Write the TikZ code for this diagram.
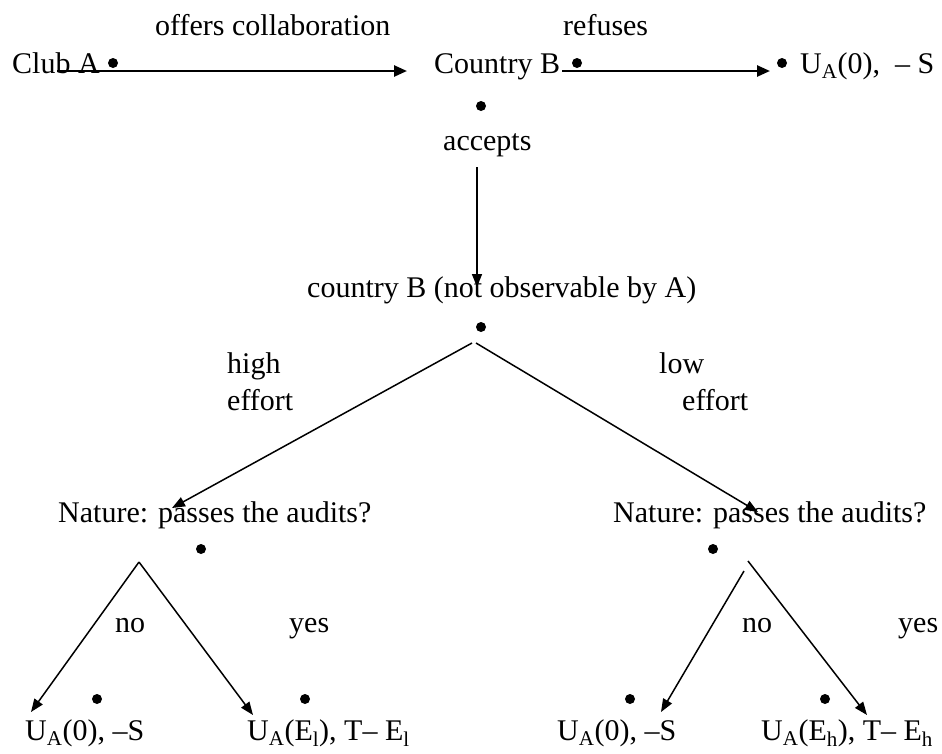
\documentclass[tikz,border=0pt]{standalone}
\usepackage{fontspec}
\setmainfont{Liberation Serif}
\usetikzlibrary{arrows.meta}
\begin{document}
\begin{tikzpicture}[x=1pt,y=-1pt,
  lbl/.style={anchor=base west,inner sep=0pt,font=\fontsize{30}{36}\selectfont},
  dot/.style={circle,fill=black,inner sep=0pt,minimum size=10pt},
  arr/.style={-{Triangle[length=13pt,width=10pt]},line width=1.5pt},
  toparr/.style={-{Triangle[length=13pt,width=11pt]},line width=2.5pt}]
\useasboundingbox (0,0) rectangle (942,753);
% top row
\node[lbl] (offers) at (155,35) {offers collaboration};
\node[lbl] (refuses) at (563,35) {refuses};
\node[lbl] (clubA) at (12,73) {Club A};
\node[dot] (dA) at (113,63) {};
\node[lbl] (countryB) at (434,73) {Country B};
\node[dot] (dB) at (577,63) {};
\node[dot] (dR) at (782,63) {};
\node[lbl] (payR) at (800,73) {U\textsubscript{A}(0),\ \ – S};
\node[dot] (dB2) at (481,106) {};
\node[lbl] (accepts) at (443,150) {accepts};
\node[lbl] (cB) at (307,297) {country B (not observable by A)};
\node[dot] (dC) at (481,327) {};
\node[lbl] (high) at (227,373) {high};
\node[lbl] (heff) at (227,410) {effort};
\node[lbl] (low) at (659,373) {low};
\node[lbl] (leff) at (682,410) {effort};
\node[lbl] (natL) at (58,522) {Nature: passes the audits?};
\node[lbl] (natR) at (613,522) {Nature: passes the audits?};
\node[dot] (dNL) at (201,549) {};
\node[dot] (dNR) at (713,549) {};
\node[lbl] (noL) at (115,632) {no};
\node[lbl] (yesL) at (289,632) {yes};
\node[lbl] (noR) at (742,632) {no};
\node[lbl] (yesR) at (898,632) {yes};
\node[dot] (d1) at (97,699) {};
\node[dot] (d2) at (305,699) {};
\node[dot] (d3) at (630,699) {};
\node[dot] (d4) at (825,699) {};
\node[lbl] (p1) at (25,740) {U\textsubscript{A}(0), –S};
\node[lbl] (p2) at (247,740) {U\textsubscript{A}(E\textsubscript{l}), T– E\textsubscript{l}};
\node[lbl] (p3) at (557,740) {U\textsubscript{A}(0), –S};
\node[lbl] (p4) at (761,740) {U\textsubscript{A}(E\textsubscript{h}), T– E\textsubscript{h}};
% connector end points
\coordinate (a1s) at (57,71);   \coordinate (a1e) at (407,71);
\coordinate (a2s) at (562,71);  \coordinate (a2e) at (770,71);
\coordinate (a3s) at (477,167); \coordinate (a3e) at (477,287);
\coordinate (a4s) at (472,343); \coordinate (a4e) at (172,508);
\coordinate (a5s) at (476,343); \coordinate (a5e) at (758,512);
\coordinate (apexL) at (139,562);
\coordinate (tLL) at (31,712);  \coordinate (tLR) at (253,715);
\coordinate (apexRr) at (748,561); \coordinate (apexRl) at (744,571);
\coordinate (tRL) at (661,712); \coordinate (tRR) at (867,715);
% connectors
\draw[toparr] (a1s) -- (a1e);
\draw[toparr] (a2s) -- (a2e);
\draw[arr] (a3s) -- (a3e);
\draw[arr] (a4s) -- (a4e);
\draw[arr] (a5s) -- (a5e);
\draw[arr] (apexL) -- (tLL);
\draw[arr] (apexL) -- (tLR);
\draw[arr] (apexRl) -- (tRL);
\draw[arr] (apexRr) -- (tRR);
\end{tikzpicture}
\end{document}
